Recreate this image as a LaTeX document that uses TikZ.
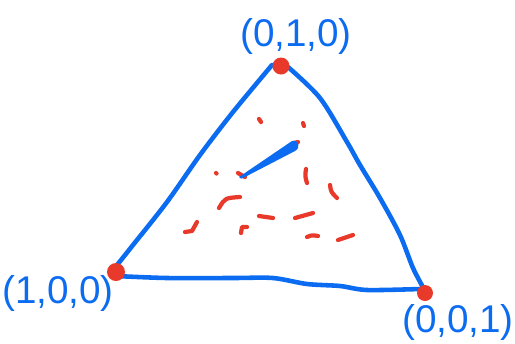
\documentclass[tikz,border=0pt]{standalone}
\usepackage{fontspec}
\setmainfont{Liberation Sans}
\definecolor{penblue}{HTML}{0B6CF2}
\definecolor{penred}{HTML}{E8392A}
\tikzset{
  edge/.style={draw=penblue,line width=2.6pt},
  redmark/.style={draw=penred,line width=2.4pt},
  vlabel/.style={text=penblue,font=\fontsize{22}{22}\selectfont},
}
\begin{document}
\begin{tikzpicture}[x=0.02cm,y=-0.02cm,line join=round,line cap=round]
\useasboundingbox (0,0) rectangle (515,343);
\coordinate (T) at (281,66);
\coordinate (L) at (116,272);
\coordinate (R) at (425,293);
% triangle
\draw[edge] plot[smooth] coordinates {(272,65) (233,112) (200,155) (167,202) (133,245) (113,270)};
\draw[edge] plot[smooth] coordinates {(116,276) (167,278) (233,278) (273,278) (307,284) (340,286) (367,290) (420,289)};
\draw[edge] plot[smooth] coordinates {(288,67) (320,98) (347,142) (360,165) (380,198) (400,235) (413,268) (424,289)};
% vertices
\fill[penred] (T) circle (8.5);
\fill[penred] (L) circle (9);
\fill[penred] (R) circle (8);
\node[vlabel] (lt) at (296,36) {(0,1,0)};
\node[vlabel] (ll) at (58,293) {(1,0,0)};
\node[vlabel] (lr) at (458,322) {(0,0,1)};
% red strokes
\draw[redmark] (259,119) -- (261,122);
\draw[redmark] (303,123) -- (304,126);
\draw[redmark] (294,143) -- (298,142);
\draw[redmark] (216,173) -- (216.5,173.5);
\draw[redmark] (238,173) -- (245,177);
\draw[redmark] (306,169) .. controls (305,176) .. (307,183);
\draw[redmark] (330,185) .. controls (331,192) .. (337,198);
\draw[redmark] (219,208) .. controls (225,198) .. (240,197);
\draw[redmark] (259,216) -- (273,218);
\draw[redmark] (295,218) -- (313,213);
\draw[redmark] (185,232) -- (192,231) -- (197,222);
\draw[redmark] (241,233) -- (242,227) -- (247,227);
\draw[redmark] (307,237) .. controls (312,235) .. (318,236);
\draw[redmark] (338,240) -- (353,235);
% pen stroke
\fill[penblue] (239,177) -- (292,141) .. controls (299,139) and (301,148) .. (295,151) -- (243,178) .. controls (241,179) .. (239,177) -- cycle;
\end{tikzpicture}
\end{document}
